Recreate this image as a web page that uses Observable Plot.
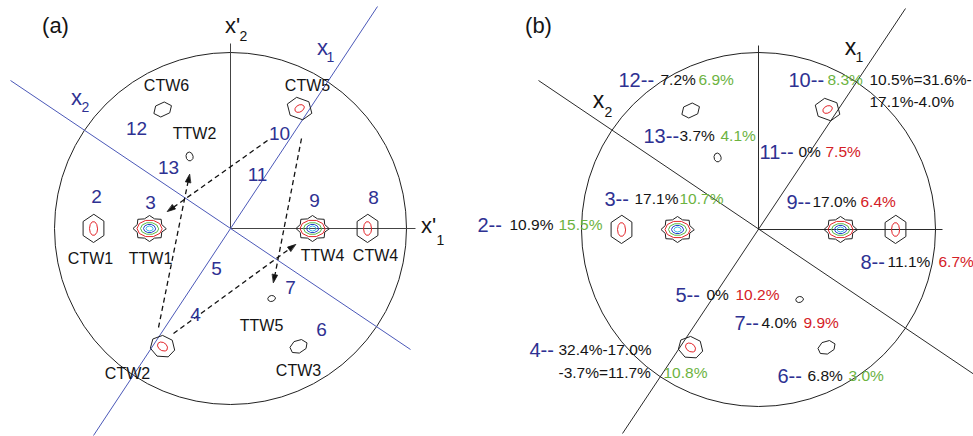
<!DOCTYPE html>
<html><head><meta charset="utf-8">
<script src="https://cdn.jsdelivr.net/npm/d3@7"></script>
<script src="https://cdn.jsdelivr.net/npm/@observablehq/plot@0.6"></script>
<style>
body{margin:0;background:#fff;}
#wrap{position:relative;width:973px;height:436px;overflow:hidden;background:#fff;}
#wrap svg{position:absolute;top:0;}
</style></head><body><div id="wrap"></div>
<script>
// ---------- pole figure radius (data units) ----------
const radiusA = 176;
const radiusB = 177;

// ---------- diffraction spots (shared by both panels) ----------
const spotName = ["CTW1","TTW1","TTW4","CTW4","CTW5","CTW6","TTW2","TTW5","CTW3","CTW2"];
const spotX    = [-137,  -81,   82,   137,   69,   -68,   -41,    41,    68,   -68];
const spotY    = [   0,    0,    0,     0,  120,   119,    72,   -70,  -118,  -118];

// ---------- contour levels of each spot ----------
const contourSpot  = ["CTW1","CTW1","TTW1","TTW1","TTW1","TTW1","TTW1","TTW4","TTW4","TTW4","TTW4","TTW4","CTW4","CTW4","CTW5","CTW5","CTW6","TTW2","TTW5","CTW3","CTW2","CTW2"];
const contourLevel = ["L1","L2","L1","L2","L3","L4","L5","L1","L2","L3","L4","L5","L1","L2","L1","L2","L1","L1","L1","L1","L1","L2"];
const contourRx    = [12, 4, 16.5, 12.5, 9, 6, 3.5, 16.5, 12.5, 9, 6, 3.5, 12, 4, 13, 5, 9.5, 3.5, 3.8, 9, 12.5, 5.5];
const contourRy    = [14, 7, 13, 8.5, 6, 4.2, 2.5, 13, 8.5, 6, 4.2, 2.5, 14, 7, 11, 3.5, 7, 4.5, 3, 6.5, 11, 4];
const contourTilt  = [0, 0, 0, 0, 0, 0, 0, 0, 0, 0, 0, 0, 0, 0, -20, 30, 25, 10, 15, 25, -15, -35];
const contourSides = [6, 10, 8, 10, 10, 10, 8, 8, 10, 10, 10, 8, 6, 10, 6, 10, 6, 9, 9, 7, 7, 10];
const contourSpike = [1, 1, 0.8, 1, 1, 1, 1, 0.8, 1, 1, 1, 1, 1, 1, 1, 1, 1, 1, 1, 1, 1, 1];
const contourPhase = [90, 0, 0, 0, 0, 0, 0, 0, 0, 0, 0, 0, 90, 0, 0, 0, 0, 0, 0, 0, 0, 0];

// ---------- panel (a): axes ----------
const axisAFromX = [0, 0, -137, -220];
const axisAFromY = [0, 0, -207, 148];
const axisAToX   = [185, 0, 147, 180];
const axisAToY   = [0, 185, 222, -121];
const axisAKind  = ["axis","axis","axisBlue","axisBlue"];

// ---------- panel (a): dashed arrows (twin relations) ----------
const arrowFromX = [37, -72, 71, -57];
const arrowFromY = [88, -99, 90, -105];
const arrowToX   = [-63, -41, 43, 65];
const arrowToY   = [17, 54, -54, -16];

// ---------- panel (a): spot labels ----------
const spotLabel  = ["CTW6","CTW5","TTW2","CTW1","TTW1","TTW4","CTW4","TTW5","CTW3","CTW2"];
const spotLabelX = [-64, 77, -36, -140, -80, 92, 145, 31, 68, -103];
const spotLabelY = [143, 143, 95, -30, -30, -27, -27, -97, -142, -145];

// ---------- panel (a): region numbers ----------
const regionA  = ["2","3","12","13","10","11","9","8","5","7","4","6"];
const regionAX = [-134, -80, -94, -62, 49, 27, 84, 143, -14, 60, -35, 91];
const regionAY = [32, 26, 100, 61, 95, 54, 28, 31, -40, -59, -86, -101];

// ---------- axis labels ----------
const axisLabelA     = ["x'", "2", "x", "1", "x", "2", "x'", "1", "(a)"];
const axisLabelAX    = [2, 13, 92, 100, -154, -145, 198, 210, -175];
const axisLabelAY    = [203, 192, 181, 171, 131, 121, 3, -12, 203];
const axisLabelASize = [22, 14, 22, 14, 22, 14, 22, 14, 22];
const axisLabelAKind = ["base","base","region","region","region","region","base","base","base"];

// ---------- panel (b): axes ----------
const axisBFromX = [0, 0, -136, -220];
const axisBFromY = [0, 0, -204, 149];
const axisBToX   = [184, 0, 147, 235];
const axisBToY   = [0, 184, 221, -158];

const axisLabelB     = ["x", "1", "x", "2", "(b)"];
const axisLabelBX    = [92, 101, -160, -150, -220];
const axisLabelBY    = [182, 172, 129, 117, 204];
const axisLabelBSize = [23, 14, 23, 14, 22];

// ---------- panel (b): volume fractions per region ----------
// kind: region = region number, base = fraction, gain = green, loss = red
const fracText = [
  "12--","7.2%","6.9%",
  "10--","8.3%","10.5%=31.6%-","17.1%-4.0%",
  "13--","3.7%","4.1%",
  "11--","0%","7.5%",
  "3--","17.1%","10.7%",
  "9--","17.0%","6.4%",
  "2--","10.9%","15.5%",
  "8--","11.1%","6.7%",
  "5--","0%","10.2%",
  "7--","4.0%","9.9%",
  "4--","32.4%-17.0%","-3.7%=11.7%","10.8%",
  "6--","6.8%","3.0%"
];
const fracKind = [
  "region","base","gain",
  "region","gain","base","base",
  "region","base","gain",
  "region","base","loss",
  "region","base","gain",
  "region","base","loss",
  "region","base","gain",
  "region","base","loss",
  "region","base","loss",
  "region","base","loss",
  "region","base","base","gain",
  "region","base","gain"
];
const fracX = [
  -140,-98,-60,
  30,69,111,111,
  -115,-79,-38,
  1,40,67,
  -154,-124,-79,
  28,54,102,
  -281,-249,-200,
  102,129,180,
  -83,-52,-23,
  -24,3,45,
  -229,-200,-200,-95,
  19,49,90
];
const fracY = [
  149,149,149,
  149,149,149,127,
  93,93,93,
  77,77,77,
  30,30,30,
  27,27,27,
  4,4,4,
  -33,-33,-33,
  -66,-66,-66,
  -94,-94,-94,
  -121,-121,-144,-144,
  -147,-147,-147
];

// ---------- colours ----------
const colorKeys   = ["L1","L2","L3","L4","L5","region","base","gain","loss","axis","axisBlue"];
const colorValues = ["#222222","#e3262b","#58b947","#2a44cc","#3cb9e6","#2e3192","#141414","#6cb33f","#d42026","#444444","#4b58b8"];
const colorScale = {type: "ordinal", domain: colorKeys, range: colorValues};
const fontFamily = "'Liberation Sans', Arial, sans-serif";

// ---------- derived geometry ----------
function contourPolygon(cx, cy, rx, ry, tilt, sides, spike, phase) {
  const n = spike < 1 ? sides * 2 : sides;
  const t = tilt * Math.PI / 180;
  const pts = [];
  for (let i = 0; i < n; i++) {
    const a = (phase + i * 360 / n) * Math.PI / 180;
    const k = (spike < 1 && i % 2 === 1) ? spike : 1;
    const px = rx * k * Math.cos(a), py = ry * k * Math.sin(a);
    pts.push([cx + px * Math.cos(t) - py * Math.sin(t), cy + px * Math.sin(t) + py * Math.cos(t)]);
  }
  return pts;
}
const contourPts = [];
contourSpot.forEach((s, i) => {
  const j = spotName.indexOf(s);
  contourPolygon(spotX[j], spotY[j], contourRx[i], contourRy[i], contourTilt[i], contourSides[i], contourSpike[i], contourPhase[i])
    .forEach(([x, y]) => contourPts.push({id: i, level: contourLevel[i], x, y}));
});

const zip = (n, f) => d3.range(n).map(f);
const axisA = zip(axisAFromX.length, i => ({x1: axisAFromX[i], y1: axisAFromY[i], x2: axisAToX[i], y2: axisAToY[i], kind: axisAKind[i]}));
const axisB = zip(axisBFromX.length, i => ({x1: axisBFromX[i], y1: axisBFromY[i], x2: axisBToX[i], y2: axisBToY[i]}));

const headLen = 8, headHalf = 2.6;
const arrowShafts = [], arrowHeads = [];
arrowFromX.forEach((_, i) => {
  const dx = arrowToX[i] - arrowFromX[i], dy = arrowToY[i] - arrowFromY[i];
  const L = Math.hypot(dx, dy), ux = dx / L, uy = dy / L;
  const bx = arrowToX[i] - headLen * ux, by = arrowToY[i] - headLen * uy;
  arrowShafts.push({x1: arrowFromX[i], y1: arrowFromY[i], x2: bx, y2: by});
  arrowHeads.push({id: i, x: arrowToX[i], y: arrowToY[i]});
  arrowHeads.push({id: i, x: bx - headHalf * uy, y: by + headHalf * ux});
  arrowHeads.push({id: i, x: bx + headHalf * uy, y: by - headHalf * ux});
});

const spotLabels = zip(spotLabel.length, i => ({t: spotLabel[i], x: spotLabelX[i], y: spotLabelY[i]}));
const regionsA = zip(regionA.length, i => ({t: regionA[i], x: regionAX[i], y: regionAY[i]}));
const labelsA = zip(axisLabelA.length, i => ({t: axisLabelA[i], x: axisLabelAX[i], y: axisLabelAY[i], s: axisLabelASize[i], k: axisLabelAKind[i]}));
const labelsB = zip(axisLabelB.length, i => ({t: axisLabelB[i], x: axisLabelBX[i], y: axisLabelBY[i], s: axisLabelBSize[i]}));
const fracs = zip(fracText.length, i => ({t: fracText[i], k: fracKind[i], x: fracX[i], y: fracY[i]}));

function contourMarks() {
  return Plot.line(contourPts, {x: "x", y: "y", z: "id", stroke: "level", strokeWidth: 1, curve: "linear-closed"});
}

// ---------- panel (a) ----------
const widthA = 470;
const plotA = Plot.plot({
  width: widthA, height: 436, margin: 0,
  x: {domain: [-230, widthA - 230], axis: null},
  y: {domain: [-208, 228], axis: null},
  color: colorScale,
  style: {fontFamily, background: "white", overflow: "visible"},
  marks: [
    Plot.dot([{x: 0, y: 0}], {x: "x", y: "y", r: radiusA, stroke: "#222", strokeWidth: 1, fill: "none"}),
    Plot.link(axisA, {x1: "x1", y1: "y1", x2: "x2", y2: "y2", stroke: "kind", strokeWidth: 1}),
    contourMarks(),
    Plot.link(arrowShafts, {x1: "x1", y1: "y1", x2: "x2", y2: "y2", stroke: "#111", strokeWidth: 1.3, strokeDasharray: "5,3.5"}),
    Plot.line(arrowHeads, {x: "x", y: "y", z: "id", fill: "#111", stroke: "#111", strokeWidth: 0.8, curve: "linear-closed"}),
    Plot.text(spotLabels, {x: "x", y: "y", text: "t", fontSize: 16, fill: "#141414"}),
    Plot.text(regionsA, {x: "x", y: "y", text: "t", fontSize: 19, fill: () => "region"}),
    Plot.text(labelsA, {x: "x", y: "y", text: "t", fontSize: "s", fill: "k"})
  ]
});

// ---------- panel (b) ----------
const leftB = 470, centerB = 758;
const plotB = Plot.plot({
  width: 973 - leftB, height: 436, margin: 0,
  x: {domain: [leftB - centerB, 973 - centerB], axis: null},
  y: {domain: [-207, 229], axis: null},
  color: colorScale,
  style: {fontFamily, background: "white"},
  marks: [
    Plot.dot([{x: 0, y: 0}], {x: "x", y: "y", r: radiusB, stroke: "#222", strokeWidth: 1, fill: "none"}),
    Plot.link(axisB, {x1: "x1", y1: "y1", x2: "x2", y2: "y2", stroke: "#2a2a2a", strokeWidth: 1}),
    contourMarks(),
    Plot.text(labelsB, {x: "x", y: "y", text: "t", fontSize: "s", fill: "#141414"}),
    Plot.text(fracs.filter(d => d.k === "region"), {x: "x", y: "y", text: "t", fontSize: 20, textAnchor: "start", fill: "k"}),
    Plot.text(fracs.filter(d => d.k !== "region"), {x: "x", y: "y", text: "t", fontSize: 15.5, textAnchor: "start", fill: "k"})
  ]
});

plotA.style.left = "0px";
plotB.style.left = leftB + "px";
document.getElementById("wrap").append(plotA, plotB);
</script></body></html>
